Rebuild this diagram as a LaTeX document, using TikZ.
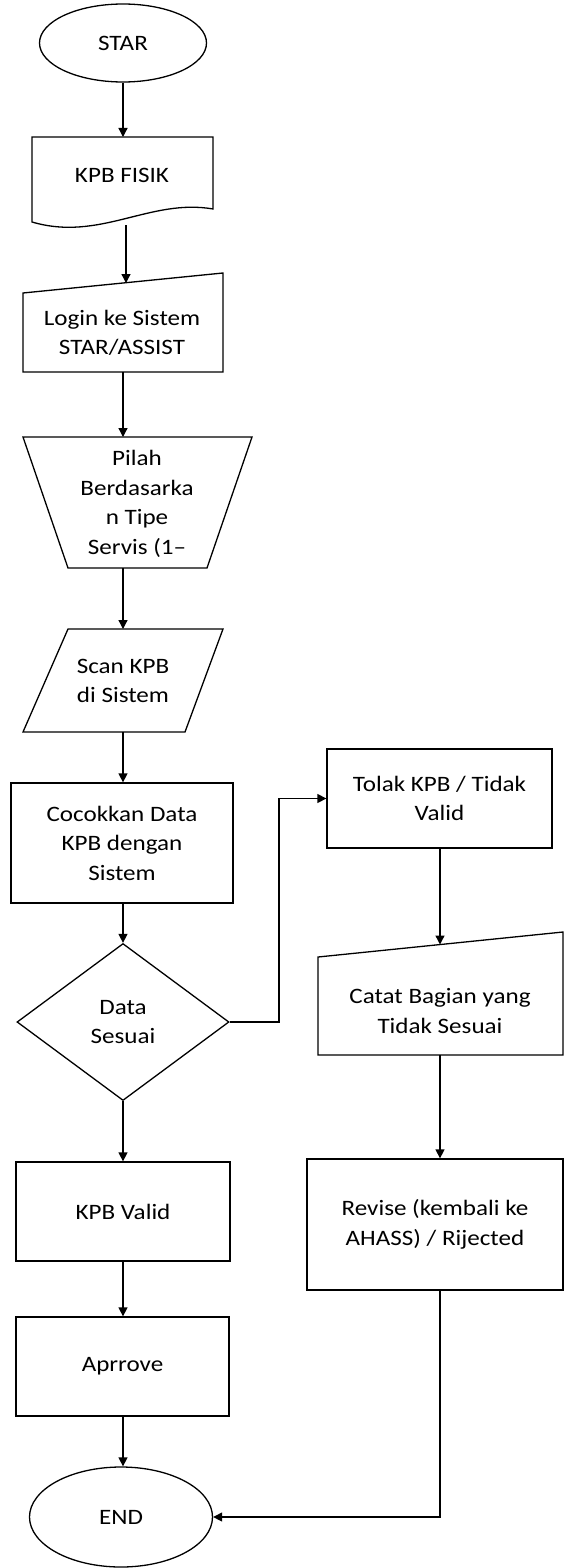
\documentclass[tikz,border=0pt]{standalone}
\usepackage{fontspec}
\setmainfont{Carlito}[FakeStretch=1.14]
\usetikzlibrary{shapes.geometric,arrows.meta}
\tikzset{
  lbl/.style={align=center,font=\fontsize{22}{29.5}\selectfont,inner sep=0pt},
  boxshape/.style={draw,line width=1.3pt,lbl,minimum width=#1},
  shp/.style={draw,line width=1.3pt,line join=miter},
  arr/.style={line width=1.3pt,-{Triangle[length=9pt,width=9pt]}},
  conn/.style={line width=1.3pt}
}
\begin{document}
\begin{tikzpicture}[x=1pt,y=-1pt]
\useasboundingbox (0,0) rectangle (565,1568);
% STAR
\node[ellipse,draw,line width=1.3pt,lbl,minimum width=167pt,minimum height=78pt] (star) at (123,43) {STAR};
% KPB FISIK (document)
\draw[shp] (32,137) -- (213,137) -- (213,209) .. controls (150,198) and (100,242) .. (32,222) -- cycle;
\node[lbl] (kpb) at (122,175) {KPB FISIK};
\coordinate (kpbT) at (123,137);
\coordinate (kpbB) at (126,225);
% Login (manual input)
\draw[shp] (23,293) -- (223,273) -- (223,372) -- (23,372) -- cycle;
\node[lbl] (login) at (122,333) {Login ke Sistem\\STAR/ASSIST};
\coordinate (loginT) at (126,283);
\coordinate (loginB) at (123,372);
% Pilah (manual operation)
\draw[shp] (23,437) -- (252,437) -- (207,568) -- (68,568) -- cycle;
\node[lbl] (pilah) at (137,504) {Pilah\\Berdasarka\\n Tipe\\Servis (1–};
\coordinate (pilahT) at (123,437);
\coordinate (pilahB) at (123,568);
% Scan (data)
\draw[shp] (68,629) -- (223,629) -- (185,732) -- (23,732) -- cycle;
\node[lbl] (scan) at (123,681) {Scan KPB\\di Sistem};
\coordinate (scanT) at (123,629);
\coordinate (scanB) at (123,732);
% Cocokkan
\node[boxshape=222pt,minimum height=120pt] (cocok) at (122,843) {Cocokkan Data\\KPB dengan\\Sistem};
% Diamond
\node[diamond,draw,line width=1.3pt,lbl,minimum width=212pt,minimum height=157pt] (dia) at (123,1022) {Data\\Sesuai};
% KPB Valid
\node[boxshape=214pt,minimum height=99pt] (valid) at (123,1211.5) {KPB Valid};
% Aprrove
\node[boxshape=213pt,minimum height=99pt] (appr) at (122.5,1366.5) {Aprrove};
% END
\node[ellipse,draw,line width=1.3pt,lbl,minimum width=183pt,minimum height=100pt] (end) at (121,1517) {END};
% Tolak
\node[boxshape=225pt,minimum height=99pt] (tolak) at (439.5,798.5) {Tolak KPB / Tidak\\Valid};
% Catat (manual input)
\draw[shp] (318,957) -- (563,932) -- (563,1055) -- (318,1055) -- cycle;
\node[lbl] (catat) at (440,1011) {Catat Bagian yang\\Tidak Sesuai};
\coordinate (catatT) at (440,944.5);
\coordinate (catatB) at (440,1055);
% Revise
\node[boxshape=256pt,minimum height=131pt] (rev) at (435,1224.5) {Revise (kembali ke\\AHASS) / Rijected};
\coordinate (bend) at (279,1022);
% connectors
\draw[arr] (star.south) -- (kpbT);
\draw[arr] (kpbB) -- (loginT);
\draw[arr] (loginB) -- (pilahT);
\draw[arr] (pilahB) -- (scanT);
\draw[arr] (scanB) -- (scanB |- cocok.north);
\draw[arr] (cocok.south -| dia.north) -- (dia.north);
\draw[arr] (dia.east) -- (bend) |- (tolak.west);
\draw[arr] (tolak.south -| catatT) -- (catatT);
\draw[arr] (catatB) -- (catatB |- rev.north);
\draw[arr] (dia.south) -- (valid.north -| dia.south);
\draw[arr] (valid.south -| dia.south) -- (appr.north -| dia.south);
\draw[arr] (appr.south -| dia.south) -- (end.north -| dia.south);
\draw[arr] (catatB |- rev.south) -- (catatB |- end.east) -- (end.east);
\end{tikzpicture}
\end{document}
